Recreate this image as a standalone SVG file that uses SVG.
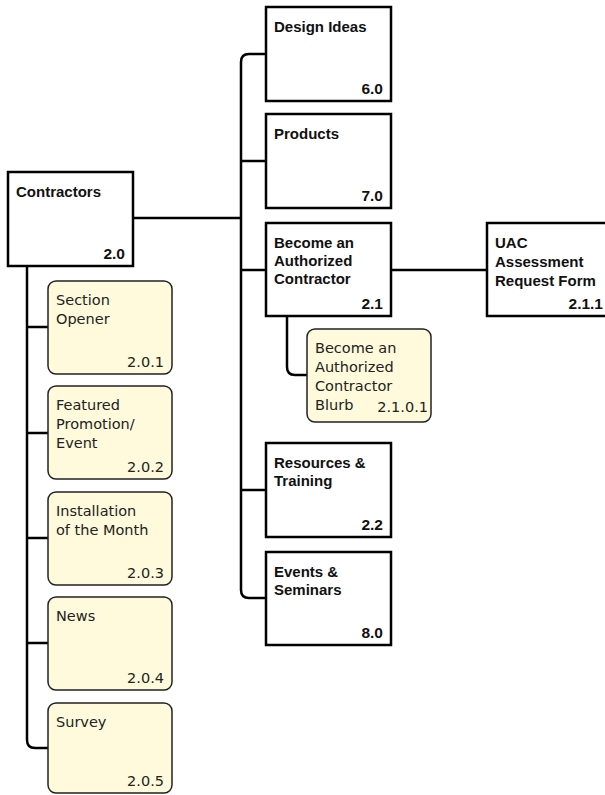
<svg xmlns="http://www.w3.org/2000/svg" width="605" height="795" viewBox="0 0 605 795">
<style>
.box{fill:#fff;stroke:#000;stroke-width:2.5}
.note{fill:#fefadb;stroke:#222;stroke-width:1.5}
.lbl{font-family:"Liberation Sans",Arial,sans-serif;font-weight:bold;font-size:15px;fill:#111}
.num{font-family:"Liberation Sans",Arial,sans-serif;font-weight:bold;font-size:15.5px;fill:#111;text-anchor:end}
.nl{font-family:"DejaVu Sans",sans-serif;font-size:14.5px;fill:#222}
.nn{font-family:"DejaVu Sans",sans-serif;font-size:14.5px;fill:#222;text-anchor:end}
.con{fill:none;stroke:#000;stroke-width:2.5}
</style>
<rect width="605" height="795" fill="#fff"/>
<g id="connectors">
<path class="con" d="M133,218 H241"/>
<path class="con" d="M266,54 H249 Q241,54 241,62 V590 Q241,598 249,598 H266"/>
<path class="con" d="M241,161 H266 M241,270 H266 M241,490 H266"/>
<path class="con" d="M390,270 H487"/>
<path class="con" d="M287,316 V367 Q287,375 295,375 H307"/>
<path class="con" d="M27,266 V740 Q27,748 35,748 H48"/>
<path class="con" d="M27,327 H48 M27,433 H48 M27,538 H48 M27,643 H48"/>
</g>
<g id="n20">
<rect class="box" x="8" y="172" width="125" height="94"/>
<text class="lbl" x="16" y="197">Contractors</text>
<text class="num" x="125" y="259">2.0</text>
</g>
<g id="n60">
<rect class="box" x="266" y="7" width="125" height="94"/>
<text class="lbl" x="274" y="32">Design Ideas</text>
<text class="num" x="383" y="94">6.0</text>
</g>
<g id="n70">
<rect class="box" x="266" y="114" width="125" height="94"/>
<text class="lbl" x="274" y="139">Products</text>
<text class="num" x="383" y="201">7.0</text>
</g>
<g id="n21">
<rect class="box" x="266" y="223" width="125" height="93"/>
<text class="lbl" x="274" y="248">Become an</text>
<text class="lbl" x="274" y="266">Authorized</text>
<text class="lbl" x="274" y="284">Contractor</text>
<text class="num" x="383" y="309">2.1</text>
</g>
<g id="n211">
<rect class="box" x="487" y="223" width="125" height="93"/>
<text class="lbl" x="495" y="248">UAC</text>
<text class="lbl" x="495" y="267">Assessment</text>
<text class="lbl" x="495" y="286">Request Form</text>
<text class="num" x="603" y="309">2.1.1</text>
</g>
<g id="n2101">
<rect class="note" x="307" y="329" width="124" height="93" rx="8"/>
<text class="nl" x="315" y="353">Become an</text>
<text class="nl" x="315" y="372">Authorized</text>
<text class="nl" x="315" y="391">Contractor</text>
<text class="nl" x="315" y="410">Blurb</text>
<text class="nn" x="428" y="412">2.1.0.1</text>
</g>
<g id="n22">
<rect class="box" x="266" y="443" width="125" height="94"/>
<text class="lbl" x="274" y="468">Resources &amp;</text>
<text class="lbl" x="274" y="486">Training</text>
<text class="num" x="383" y="530">2.2</text>
</g>
<g id="n80">
<rect class="box" x="266" y="552" width="125" height="93"/>
<text class="lbl" x="274" y="577">Events &amp;</text>
<text class="lbl" x="274" y="595">Seminars</text>
<text class="num" x="383" y="638">8.0</text>
</g>
<g id="n201">
<rect class="note" x="48" y="281" width="124" height="93" rx="8"/>
<text class="nl" x="56" y="305">Section</text>
<text class="nl" x="56" y="324">Opener</text>
<text class="nn" x="164" y="367">2.0.1</text>
</g>
<g id="n202">
<rect class="note" x="48" y="386" width="124" height="93" rx="8"/>
<text class="nl" x="56" y="410">Featured</text>
<text class="nl" x="56" y="429">Promotion/</text>
<text class="nl" x="56" y="448">Event</text>
<text class="nn" x="164" y="472">2.0.2</text>
</g>
<g id="n203">
<rect class="note" x="48" y="492" width="124" height="93" rx="8"/>
<text class="nl" x="56" y="516">Installation</text>
<text class="nl" x="56" y="535">of the Month</text>
<text class="nn" x="164" y="578">2.0.3</text>
</g>
<g id="n204">
<rect class="note" x="48" y="597" width="124" height="93" rx="8"/>
<text class="nl" x="56" y="621">News</text>
<text class="nn" x="164" y="683">2.0.4</text>
</g>
<g id="n205">
<rect class="note" x="48" y="703" width="124" height="90" rx="8"/>
<text class="nl" x="56" y="727">Survey</text>
<text class="nn" x="164" y="786">2.0.5</text>
</g>
</svg>
